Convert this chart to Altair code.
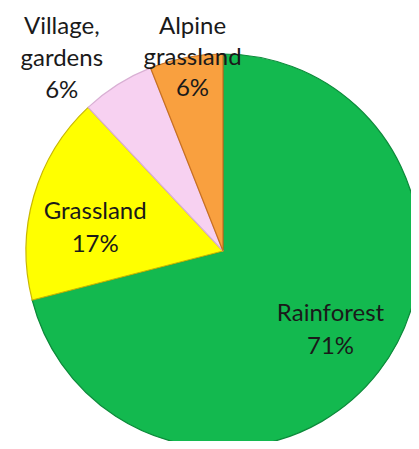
import altair as alt
import pandas as pd

categories = ["Rainforest", "Grassland", "Village, gardens", "Alpine grassland"]
values = [71, 17, 6, 6]
label_texts = ["Rainforest\n71%", "Grassland\n17%", "Village,\ngardens\n6%", "Alpine\ngrassland\n6%"]
fill_colors = ["#13B94F", "#FFFF00", "#F7D1F1", "#F9A03F"]
edge_colors = ["#0C8A3A", "#C9B800", "#D9B0D4", "#C87020"]

df = pd.DataFrame({
    "category": categories,
    "value": values,
    "label": label_texts,
    "order": list(range(len(categories))),
})

CX, CY, R = 215, 243, 197

base = alt.Chart(df).encode(
    theta=alt.Theta("value:Q", stack=True),
    order=alt.Order("order:Q"),
)

pie = base.mark_arc(outerRadius=R, strokeWidth=1.2).encode(
    x=alt.value(CX),
    y=alt.value(CY),
    color=alt.Color("category:N", scale=alt.Scale(domain=categories, range=fill_colors), legend=None),
    stroke=alt.Stroke("category:N", scale=alt.Scale(domain=categories, range=edge_colors), legend=None),
)

label_place = {
    "Rainforest": dict(radius=131, dx=4, dy=-17, lh=33),
    "Grassland": dict(radius=131, dx=-2, dy=-2, lh=33),
    "Village, gardens": dict(radius=230, dx=-38, dy=-30, lh=32),
    "Alpine grassland": dict(radius=200, dx=7, dy=-28, lh=31),
}

text_layers = []
for cat in categories:
    p = label_place[cat]
    t = base.mark_text(
        radius=p["radius"], dx=p["dx"], dy=p["dy"],
        font="Lato", fontSize=24, lineBreak="\n", lineHeight=p["lh"],
        align="center", baseline="middle", color="#1A1A1A",
    ).encode(
        x=alt.value(CX),
        y=alt.value(CY),
        text="label:N",
        opacity=alt.condition(alt.datum.category == cat, alt.value(1), alt.value(0)),
    )
    text_layers.append(t)

chart = alt.layer(pie, *text_layers).properties(
    width=403, height=433, padding=0, autosize="none",
).configure_view(stroke=None)

chart.save("out.html", embed_options={"renderer": "svg", "actions": False})
